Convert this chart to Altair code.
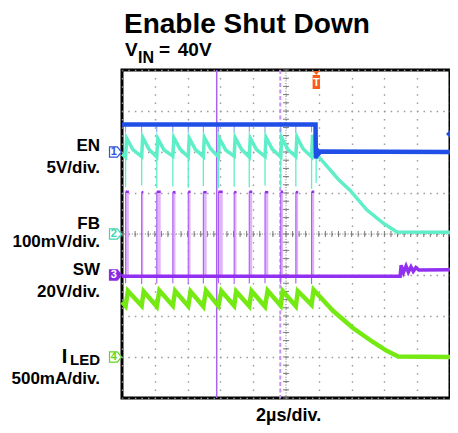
import altair as alt
import pandas as pd

# ---------------- data (oscilloscope divisions: x 0..10, y 0..8) ----------------
# SW switching pulses
sw_start = [0.11, 0.60, 1.06, 1.55, 2.02, 2.48, 2.94, 3.42, 3.88, 4.36, 4.84, 5.30, 5.78]
sw_end   = [0.21, 0.65, 1.18, 1.63, 2.09, 2.58, 3.07, 3.49, 3.97, 4.46, 4.91, 5.37, 5.86]
sw_top   = [5.03, 5.02, 5.03, 5.02, 5.03, 5.02, 5.03, 5.02, 5.03, 5.02, 5.03, 5.02, 5.03]
sw_dip   = [2.80, 2.78, 2.79, 2.80, 2.78, 2.79, 2.80, 2.78, 2.79, 2.80, 2.78, 2.79, 2.78]
sw_low   = 2.97
sw_x = [0.00, 8.48, 8.51, 8.58, 8.66, 8.73, 8.81, 8.88, 8.96, 9.05, 10.00]
sw_y = [2.97, 2.97, 3.24, 3.06, 3.22, 3.07, 3.20, 3.09, 3.18, 3.12, 3.13]

# FB
fb_x = [0.00,
        0.11, 0.14, 0.33,
        0.60, 0.63, 0.82,
        1.06, 1.09, 1.28,
        1.55, 1.58, 1.77,
        2.02, 2.05, 2.24,
        2.48, 2.51, 2.70,
        2.94, 2.97, 3.16,
        3.42, 3.45, 3.64,
        3.88, 3.91, 4.10,
        4.36, 4.39, 4.58,
        4.84, 4.87, 5.06,
        5.30, 5.33, 5.52,
        5.78, 5.81, 5.91, 5.98,
        6.60, 6.95, 7.46, 7.97, 8.38, 10.00]
fb_y = [5.95,
        5.88, 6.34, 6.06,
        5.89, 6.36, 6.07,
        5.88, 6.33, 6.05,
        5.90, 6.35, 6.07,
        5.88, 6.34, 6.06,
        5.89, 6.36, 6.08,
        5.88, 6.33, 6.05,
        5.90, 6.35, 6.07,
        5.88, 6.34, 6.06,
        5.89, 6.36, 6.07,
        5.88, 6.35, 6.06,
        5.89, 6.37, 6.08,
        5.88, 6.42, 6.00, 5.90,
        5.33, 5.07, 4.59, 4.26, 4.05, 4.04]
fb_spike_top = [5.88, 5.89, 5.88, 5.90, 5.88, 5.89, 5.88, 5.90, 5.88, 5.89, 5.88, 5.89, 5.88]
fb_spike_low = [5.14, 5.18, 5.12, 5.16, 5.13, 5.17, 5.12, 5.15, 5.14, 5.18, 5.13, 5.16, 5.10]
fb_glitch_x, fb_glitch_low, fb_glitch_high = [5.92], [5.25], [6.60]

# I_LED
il_x = [0.00,
        0.11, 0.18, 0.60, 0.66, 1.06, 1.14, 1.55, 1.62, 2.02, 2.09,
        2.48, 2.56, 2.94, 3.03, 3.42, 3.48, 3.88, 3.95, 4.36, 4.44,
        4.84, 4.90, 5.30, 5.36, 5.78, 5.84,
        6.44, 7.05, 7.66, 8.07, 8.42, 10.00]
il_y = [2.34,
        2.24, 2.61, 2.25, 2.60, 2.23, 2.62, 2.25, 2.61, 2.24, 2.60,
        2.23, 2.62, 2.24, 2.61, 2.25, 2.60, 2.24, 2.61, 2.23, 2.62,
        2.25, 2.61, 2.24, 2.61, 2.27, 2.64,
        2.12, 1.70, 1.36, 1.15, 1.01, 1.00]

# EN
en_x = [0.00, 5.90, 5.91, 5.94, 5.98, 6.05, 10.00]
en_y = [6.67, 6.67, 5.84, 6.08, 5.95, 6.01, 6.00]
en_blip_low = 6.48

# cursors
cursor_solid = [2.887]
cursor_dashed = [4.826]

# channel markers
ch_num = ["1", "2", "3", "4"]
ch_level = [6.0, 4.0, 3.0, 1.0]
ch_color = ["#2f52e0", "#3fd6ae", "#8a2be2", "#62d61c"]
ch_fill = ["white", "white", "#8a2be2", "white"]
ch_text = ["#2f52e0", "#3fd6ae", "white", "#62d61c"]

# texts
left_labels = ["EN", "5V/div.", "FB", "100mV/div.", "SW", "20V/div.", "LED", "500mA/div."]
left_label_y = [6.02, 5.49, 4.12, 3.68, 2.99, 2.46, 0.80, 0.35]
left_label_size = [17, 17, 17, 17, 17, 17, 15, 17]
title_parts = ["Enable Shut Down", "V", "IN", "=", "40V"]
title_x = [0.061, 0.091, 0.49, 1.13, 1.70]
title_y = [8.902, 8.341, 8.163, 8.341, 8.341]
title_size = [28, 19, 16, 19, 19]

# graticule
grat_minor = [i / 5 for i in range(51)]

# ---------------- colours ----------------
C_EN = "#1f4fe6"
C_FB = "#5eeec8"
C_SW = "#9230f2"
C_SW_EDGE = "#a95af4"
C_SW_LIGHT = "#deb0f9"
C_IL = "#74ea12"
FONT = "Liberation Sans"

xs_ = alt.Scale(domain=[0, 10], nice=False, zero=False)
ys_ = alt.Scale(domain=[0, 8], nice=False, zero=False)
ax_x = alt.Axis(values=list(range(11)), grid=True, labels=False, ticks=False, domain=False,
                gridDash=[1.5, 6.7], gridDashOffset=0.75, gridColor="#9a9a9a", gridWidth=1.4)
ax_y = alt.Axis(values=list(range(9)), grid=True, labels=False, ticks=False, domain=False,
                gridDash=[1.5, 5.06], gridDashOffset=0.75, gridColor="#9a9a9a", gridWidth=1.4)


def X(f="x"):
    return alt.X(f"{f}:Q", scale=xs_, axis=ax_x, title="")


def Y(f="y"):
    return alt.Y(f"{f}:Q", scale=ys_, axis=ax_y, title="")


def line_df(xv, yv):
    return pd.DataFrame({"x": xv, "y": yv, "i": list(range(len(xv)))})


def trace(xv, yv, color, width):
    return alt.Chart(line_df(xv, yv)).mark_line(color=color, strokeWidth=width,
                                               strokeJoin="miter", interpolate="linear").encode(
        x=X(), y=Y(), order=alt.Order("i:Q"))


layers = []

# center cross-hair
layers.append(alt.Chart(pd.DataFrame({"x": [5.0]})).mark_rule(
    color="#7a7a7a", strokeWidth=1, strokeDash=[1, 1.6]).encode(x=X()))
layers.append(alt.Chart(pd.DataFrame({"y": [4.0]})).mark_rule(
    color="#7a7a7a", strokeWidth=1, strokeDash=[1, 1.6]).encode(y=Y()))
layers.append(alt.Chart(pd.DataFrame({"x": [5.0] * len(grat_minor[:41]), "y": grat_minor[:41]}))
              .mark_tick(orient="horizontal", size=6, thickness=1, color="#7a7a7a", opacity=1)
              .encode(x=X(), y=Y()))
layers.append(alt.Chart(pd.DataFrame({"x": grat_minor, "y": [4.0] * len(grat_minor)}))
              .mark_tick(orient="vertical", size=6, thickness=1, color="#7a7a7a", opacity=1)
              .encode(x=X(), y=Y()))

# cursors
layers.append(alt.Chart(pd.DataFrame({"x": cursor_solid})).mark_rule(
    color="#a862f2", strokeWidth=1.5).encode(x=X()))
layers.append(alt.Chart(pd.DataFrame({"x": cursor_dashed})).mark_rule(
    color="#c890f2", strokeWidth=2, strokeDash=[4, 2.5]).encode(x=X()))

# SW pulse fills
sw_df = pd.DataFrame({"x": sw_start, "x2": sw_end, "y": [sw_low] * len(sw_start), "y2": sw_top,
                      "yd": sw_dip})
layers.append(alt.Chart(sw_df).mark_rect(color=C_SW_LIGHT, opacity=0.95).encode(
    x=X(), x2="x2:Q", y=Y(), y2="y2:Q"))

# FB
fbs = pd.DataFrame({"x": sw_start, "y": fb_spike_top, "y2": fb_spike_low})
layers.append(alt.Chart(fbs).mark_rule(color=C_FB, strokeWidth=1.3).encode(x=X(), y=Y(), y2="y2:Q"))
fbg = pd.DataFrame({"x": fb_glitch_x, "y": fb_glitch_low, "y2": fb_glitch_high})
layers.append(alt.Chart(fbg).mark_rule(color=C_FB, strokeWidth=1.3).encode(x=X(), y=Y(), y2="y2:Q"))
layers.append(trace(fb_x, fb_y, C_FB, 3.5))

# SW line and edges
layers.append(alt.Chart(sw_df).mark_rule(color=C_SW_EDGE, strokeWidth=1.1).encode(
    x=X(), y=Y("yd"), y2="y2:Q"))
layers.append(alt.Chart(sw_df).mark_rule(color=C_SW, strokeWidth=2.5).encode(
    x=X(), x2="x2:Q", y=Y("y2")))
layers.append(trace(sw_x, sw_y, C_SW, 3.5))

# I_LED
layers.append(trace(il_x, il_y, C_IL, 4.5))

# EN
enb = pd.DataFrame({"x": sw_start, "y": [en_y[0]] * len(sw_start), "y2": [en_blip_low] * len(sw_start)})
layers.append(alt.Chart(enb).mark_rule(color="#7d9cf2", strokeWidth=1).encode(x=X(), y=Y(), y2="y2:Q"))
layers.append(trace(en_x, en_y, C_EN, 4.5))

# channel markers
ch_df = pd.DataFrame({"x": [-0.198] * 4, "xt": [-0.25] * 4, "y": ch_level, "n": ch_num,
                      "c": ch_color, "f": ch_fill, "t": ch_text})
layers.append(alt.Chart(ch_df).mark_point(
    shape="M-1,-0.85 L0.3,-0.85 L1,0 L0.3,0.85 L-1,0.85 Z", size=144, filled=True,
    strokeWidth=1.2, opacity=1).encode(
    x=X(), y=Y(), fill=alt.Fill("f:N", scale=None), stroke=alt.Stroke("c:N", scale=None)))
layers.append(alt.Chart(ch_df).mark_text(font=FONT, fontSize=11, fontWeight="bold",
                                        baseline="middle", align="center").encode(
    x=X("xt"), y=Y(), text="n:N", color=alt.Color("t:N", scale=None)))

# trigger marker and trigger level
layers.append(alt.Chart(pd.DataFrame({"x": [5.924], "y": [7.732]})).mark_point(
    shape="M-0.37,-0.6 L0.37,-0.6 L0.37,0.8 L-0.37,0.8 Z M-0.32,-1 L0.32,-1 L0,-0.6 Z",
    size=400, filled=True, color="#ff5a16", opacity=1).encode(x=X(), y=Y()))
layers.append(alt.Chart(pd.DataFrame({"x": [5.924], "y": [7.695], "t": ["T"]})).mark_text(
    font=FONT, fontSize=11, fontWeight="bold", color="white", baseline="middle",
    align="center").encode(x=X(), y=Y(), text="t:N"))
layers.append(alt.Chart(pd.DataFrame({"x": [10.0], "y": [6.44]})).mark_point(
    shape="M-1,0 L0,-1 L0,1 Z", size=64, filled=True, color=C_EN, opacity=1).encode(x=X(), y=Y()))

# left labels
lab_df = pd.DataFrame({"x": [-0.67] * len(left_labels), "y": left_label_y, "t": left_labels,
                       "s": left_label_size})
layers.append(alt.Chart(lab_df).mark_text(font=FONT, fontWeight="bold", align="right",
                                         baseline="alphabetic", color="black").encode(
    x=X(), y=Y(), text="t:N", size=alt.Size("s:Q", scale=None)))
layers.append(alt.Chart(pd.DataFrame({"x": [-1.67], "y": [0.86], "t": ["I"]})).mark_text(
    font=FONT, fontWeight="bold", align="right", baseline="alphabetic", fontSize=20,
    color="black").encode(x=X(), y=Y(), text="t:N"))

# title
tt_df = pd.DataFrame({"x": title_x, "y": title_y, "t": title_parts, "s": title_size})
layers.append(alt.Chart(tt_df).mark_text(font=FONT, fontWeight="bold", align="left",
                                        baseline="alphabetic", color="black").encode(
    x=X(), y=Y(), text="t:N", size=alt.Size("s:Q", scale=None)))

# time base
layers.append(alt.Chart(pd.DataFrame({"x": [5.08], "y": [-0.56], "t": ["2µs/div."]})).mark_text(
    font=FONT, fontWeight="bold", align="center", baseline="alphabetic", fontSize=18,
    color="black").encode(x=X(), y=Y(), text="t:N"))

chart = alt.layer(*layers).properties(
    width=328, height=328,
    autosize=alt.AutoSizeParams(type="none"),
    padding={"left": 114, "top": 62, "right": 0, "bottom": 27},
    background="white",
).configure_view(stroke="black", strokeWidth=3)

chart.save("out.html", embed_options={"renderer": "svg", "actions": False})
